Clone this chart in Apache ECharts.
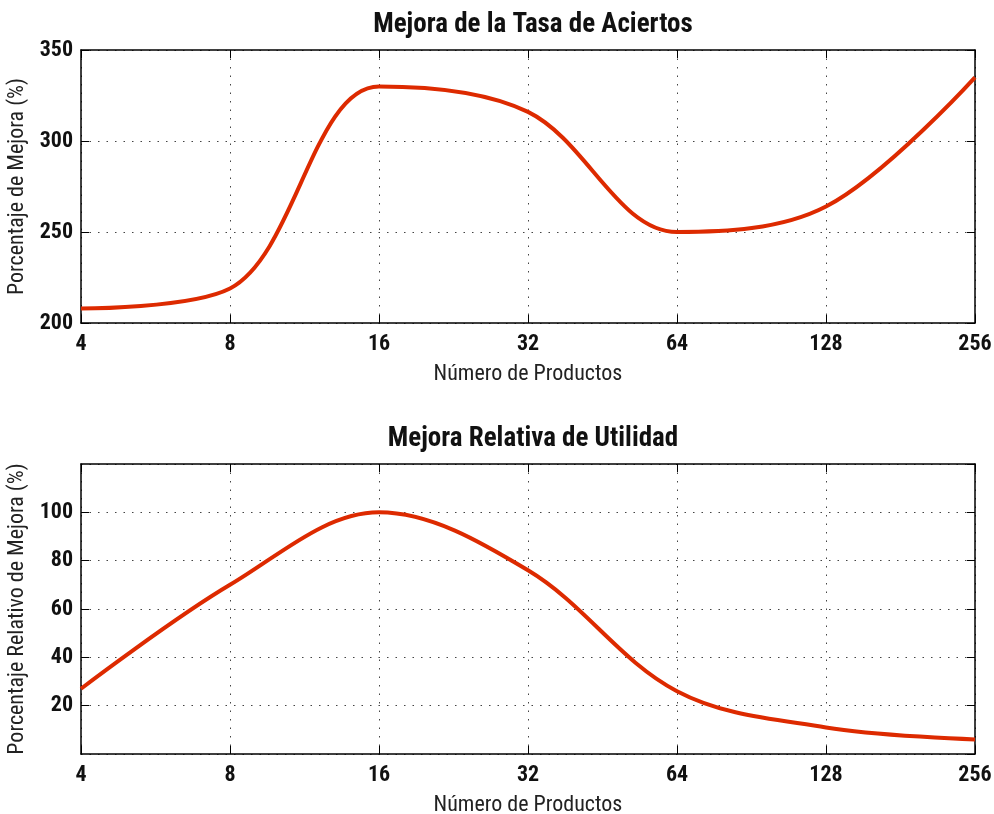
<!DOCTYPE html>
<html>
<head>
<meta charset="utf-8">
<script src="https://cdn.jsdelivr.net/npm/echarts@6/dist/echarts.min.js"></script>
<style>
  html, body { margin: 0; padding: 0; background: #fff; }
  #chart { width: 994px; height: 814px; }
</style>
</head>
<body>
<div id="chart"></div>
<script>
// datos
var productos = [4, 8, 16, 32, 64, 128, 256];
var tasaAciertos = [208, 219, 330, 316, 250, 264, 335];
var utilidadRelativa = [27, 70, 100, 76, 26, 11, 6];
var ticksArriba = [200, 250, 300, 350];
var ticksAbajo = [20, 40, 60, 80, 100];

var fuente = '"Roboto Condensed", "DejaVu Sans Condensed", sans-serif';
var rojo = '#dd2a00';

function par(arr) {
  return arr.map(function (v, i) { return [productos[i], v]; });
}

// eje x logaritmico base 2, uno abajo (con etiquetas) y otro arriba (solo marcas)
function ejeX(grid, abajo) {
  return {
    type: 'log', logBase: 2, min: 4, max: 256, gridIndex: grid,
    position: abajo ? 'bottom' : 'top',
    name: abajo ? 'Número de Productos' : '',
    nameLocation: 'middle', nameGap: 40,
    nameTextStyle: { fontFamily: fuente, fontSize: 22, color: '#222' },
    axisLine: { show: true, onZero: false, lineStyle: { color: '#000', width: 1.5 } },
    axisTick: { show: true, inside: true, length: 8, lineStyle: { color: '#000' } },
    axisLabel: {
      show: abajo, margin: 10, fontFamily: fuente, fontSize: 22, fontWeight: 'bold', color: '#111'
    },
    splitLine: abajo ? { show: true, lineStyle: { type: [1.5, 7], color: '#444' } } : { show: false },
    minorTick: { show: false }
  };
}

function ejeY(grid, min, max, ticks, nombre, derecha) {
  return {
    type: 'value', gridIndex: grid, min: min, max: max,
    interval: ticks[1] - ticks[0],
    position: derecha ? 'right' : 'left',
    name: derecha ? '' : nombre,
    nameLocation: 'middle', nameGap: 36,
    nameTextStyle: { fontFamily: fuente, fontSize: 22, color: '#222' },
    axisLine: { show: true, lineStyle: { color: '#000', width: 1.5 } },
    axisTick: { show: true, inside: true, length: 8, lineStyle: { color: '#000' } },
    axisLabel: {
      show: !derecha, margin: 8, fontFamily: fuente, fontSize: 22, fontWeight: 'bold', color: '#111',
      showMinLabel: ticks.indexOf(min) >= 0, showMaxLabel: ticks.indexOf(max) >= 0,
      formatter: function (v) { return ticks.indexOf(v) >= 0 ? String(v) : ''; }
    },
    splitLine: derecha ? { show: false } : { show: true, lineStyle: { type: [1.5, 7], color: '#444' } }
  };
}

var chart = echarts.init(document.getElementById('chart'));
chart.setOption({
  animation: false,
  backgroundColor: '#fff',
  title: [
    { text: 'Mejora de la Tasa de Aciertos', left: 528, top: 7, textAlign: 'center',
      textStyle: { fontFamily: fuente, fontSize: 27, fontWeight: 'bold', color: '#111' } },
    { text: 'Mejora Relativa de Utilidad', left: 528, top: 421, textAlign: 'center',
      textStyle: { fontFamily: fuente, fontSize: 27, fontWeight: 'bold', color: '#111' } }
  ],
  grid: [
    { left: 81, right: 19, top: 50, height: 273, outerBoundsMode: 'none' },
    { left: 81, right: 19, top: 464, height: 290, outerBoundsMode: 'none' }
  ],
  xAxis: [ejeX(0, true), ejeX(0, false), ejeX(1, true), ejeX(1, false)],
  yAxis: [
    ejeY(0, 200, 350, ticksArriba, 'Porcentaje de Mejora (%)', false),
    ejeY(0, 200, 350, ticksArriba, '', true),
    ejeY(1, 0, 120, ticksAbajo, 'Porcentaje Relativo de Mejora (%)', false),
    ejeY(1, 0, 120, ticksAbajo, '', true)
  ],
  series: [
    {
      type: 'line', xAxisIndex: 0, yAxisIndex: 0, data: par(tasaAciertos),
      smooth: 0.35, showSymbol: false, lineStyle: { color: rojo, width: 4 }
    },
    {
      type: 'line', xAxisIndex: 2, yAxisIndex: 2, data: par(utilidadRelativa),
      smooth: 0.35, showSymbol: false, lineStyle: { color: rojo, width: 4 }
    }
  ]
});
</script>
</body>
</html>
